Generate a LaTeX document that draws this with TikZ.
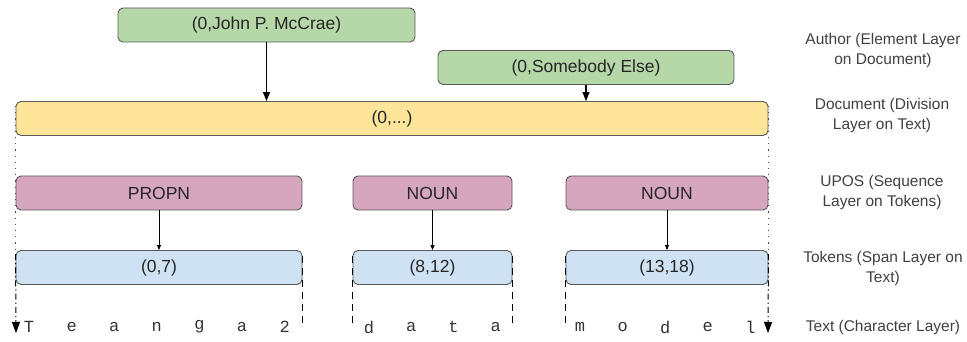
\documentclass[tikz,border=0pt]{standalone}
\usepackage{fontspec}
\setmainfont{Liberation Sans}
\newfontfamily\monofnt{Liberation Mono}
\usetikzlibrary{arrows.meta}
\definecolor{grn}{HTML}{B6D7A8}
\definecolor{ylw}{HTML}{FFE599}
\definecolor{pnk}{HTML}{D5A6BD}
\definecolor{blu}{HTML}{CFE2F3}
\definecolor{edge}{HTML}{595959}
\begin{document}
\begin{tikzpicture}[x=1pt,y=-1pt,
  boxbase/.style={draw=edge,line width=0.9pt,rounded corners=5pt,minimum height=34pt,inner sep=0pt,
    font=\fontsize{17.5}{20}\selectfont,text=black!85},
  authbox/.style={boxbase,fill=grn},
  docbox/.style={boxbase,fill=ylw},
  posbox/.style={boxbase,fill=pnk},
  tokbox/.style={boxbase,fill=blu},
  lbl/.style={align=center,font=\fontsize{15.5}{20}\selectfont,text=black!75},
  chr/.style={font=\monofnt\fontsize{17}{18}\selectfont,text=black!80,inner sep=0pt},
  bigarr/.style={line width=1.1pt,-{Triangle[width=7pt,length=9pt]}},
  smallarr/.style={line width=0.7pt,-{Triangle[width=4pt,length=5pt]}},
  dotln/.style={line width=1pt,dash pattern=on 1.2pt off 5pt,draw=black!70},
  dashdotln/.style={line width=1pt,dash pattern=on 6pt off 3pt on 1.2pt off 3pt,-{Triangle[width=8pt,length=11pt]}},
  dashln/.style={line width=1pt,dash pattern=on 7pt off 5pt}]
\useasboundingbox (0,0) rectangle (967,342);

% layer boxes
\node[authbox,minimum width=297pt] (a1) at (266.5,25) {(0,John P. McCrae)};
\node[authbox,minimum width=296pt] (a2) at (586,67.5) {(0,Somebody Else)};
\node[docbox,minimum width=752pt] (doc) at (392,118.5) {(0,...)};
\node[posbox,minimum width=286pt] (p1) at (159,193) {PROPN};
\node[posbox,minimum width=159pt] (p2) at (432.5,193) {NOUN};
\node[posbox,minimum width=202pt] (p3) at (667,193) {NOUN};
\node[tokbox,minimum width=286pt] (t1) at (159,267.5) {(0,7)};
\node[tokbox,minimum width=159pt] (t2) at (432.5,267.5) {(8,12)};
\node[tokbox,minimum width=202pt] (t3) at (667,267.5) {(13,18)};

% arrows
\draw[bigarr] (a1.south) -- (a1.south |- doc.north);
\draw[bigarr] (a2.south) -- (a2.south |- doc.north);
\draw[smallarr] (p1.south) -- (t1.north);
\draw[smallarr] (p2.south) -- (t2.north);
\draw[smallarr] (p3.south) -- (t3.north);

% text characters
\coordinate (lend) at (16,333);
\coordinate (rend) at (768,333);
\foreach \c [count=\i] in {T,e,a,n,g,a,2}
  \node[chr] (ca\i) at ({29+(\i-1)*42.6},327) {\c};
\foreach \c [count=\i] in {d,a,t,a}
  \node[chr] (cb\i) at ({369+(\i-1)*42.2},327) {\c};
\foreach \c [count=\i] in {m,o,d,e,l}
  \node[chr] (cc\i) at ({580+(\i-1)*42.6},327) {\c};

% boundary lines
\draw[dotln] (doc.north west) ++(0,5) -- (t1.north west);
\draw[dotln] (doc.north east) ++(0,5) -- (t3.north east);
\draw[dashdotln] (t1.north west) ++(0,4) -- (lend);
\draw[dashdotln] (t3.north east) ++(0,4) -- (rend);
\draw[dashln] (t1.north east) ++(0,6) -- ++(0,71);
\draw[dashln] (t2.north west) ++(0,6) -- ++(0,71);
\draw[dashln] (t2.north east) ++(0,6) -- ++(0,71);
\draw[dashln] (t3.north west) ++(0,6) -- ++(0,71);

% right-hand labels
\node[lbl] (l1) at (883,50) {Author (Element Layer\\on Document)};
\node[lbl] (l2) at (882,115) {Document (Division\\Layer on Text)};
\node[lbl] (l3) at (882,192) {UPOS (Sequence\\Layer on Tokens)};
\node[lbl] (l4) at (883,268) {Tokens (Span Layer on\\Text)};
\node[lbl] (l5) at (883,327) {Text (Character Layer)};
\end{tikzpicture}
\end{document}
